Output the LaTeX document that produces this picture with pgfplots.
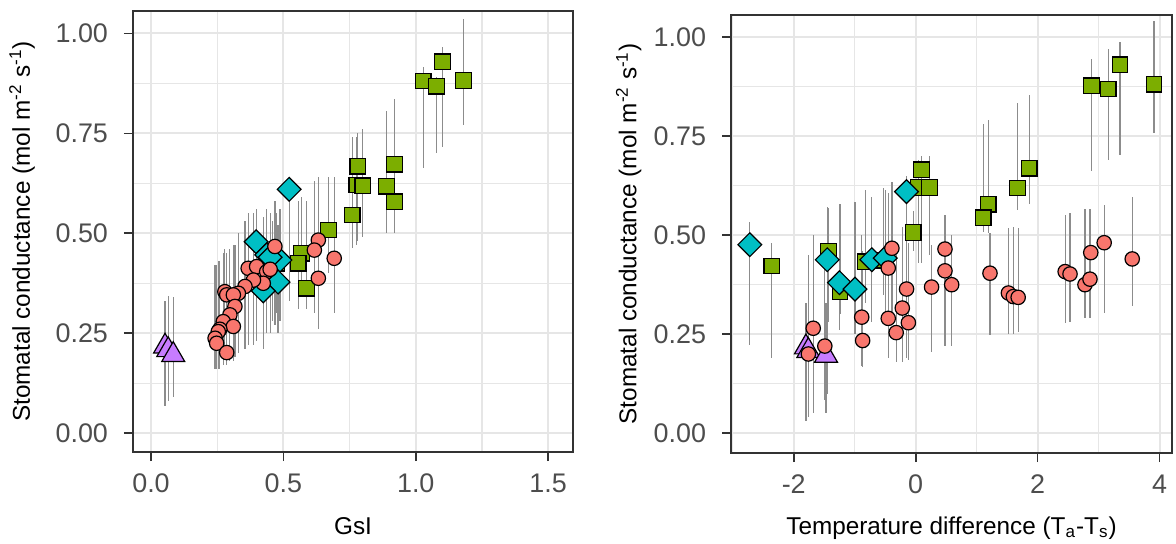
\documentclass[border=0pt]{standalone}
\usepackage{fontspec}
\setmainfont{Liberation Sans}
\usepackage{pgfplots}
\usepackage{pgfplotstable}
\pgfplotsset{compat=1.18}

\definecolor{cCirc}{HTML}{F8766D}
\definecolor{cSq}{HTML}{7CAE00}
\definecolor{cDia}{HTML}{00BFC4}
\definecolor{cTri}{HTML}{C77CFF}
\definecolor{gg20}{HTML}{333333}
\definecolor{ggGrid}{HTML}{E6E6E6}
\definecolor{ggLab}{HTML}{4D4D4D}
\definecolor{ggBar}{HTML}{8C8C8C}

% columns: x y lo hi  (lo/hi = ends of the error bar)
\pgfplotstableread{
x y lo hi
0.468 0.467 0.27 0.58
0.632 0.483 0.33 0.64
0.617 0.458 0.30 0.63
0.692 0.4375 0.30 0.64
0.632 0.3875 0.26 0.62
0.367 0.4125 0.22 0.55
0.399 0.4167 0.23 0.56
0.437 0.404 0.25 0.56
0.424 0.375 0.24 0.54
0.387 0.383 0.22 0.55
0.355 0.367 0.21 0.53
0.450 0.410 0.25 0.55
0.330 0.350 0.20 0.50
0.279 0.354 0.19 0.46
0.286 0.346 0.19 0.45
0.311 0.346 0.20 0.47
0.317 0.317 0.19 0.47
0.298 0.296 0.18 0.46
0.273 0.279 0.17 0.45
0.311 0.267 0.18 0.44
0.260 0.260 0.16 0.43
0.254 0.254 0.16 0.43
0.242 0.2375 0.16 0.42
0.248 0.225 0.16 0.42
0.286 0.2017 0.17 0.43
}\leftcirc

\pgfplotstableread{
x y lo hi
1.028 0.881 0.663 0.917
1.101 0.929 0.717 0.967
1.079 0.868 0.700 0.890
1.180 0.882 0.771 1.035
0.781 0.668 0.48 0.75
0.777 0.621 0.47 0.74
0.800 0.619 0.49 0.76
0.919 0.673 0.52 0.835
0.890 0.618 0.50 0.806
0.919 0.579 0.50 0.78
0.760 0.546 0.463 0.74
0.670 0.508 0.40 0.64
0.569 0.450 0.34 0.59
0.556 0.425 0.31 0.58
0.475 0.425 0.30 0.55
0.460 0.420 0.28 0.53
0.588 0.3625 0.31 0.58
}\leftsq

\pgfplotstableread{
x y lo hi
0.522 0.610 0.33 0.62
0.397 0.479 0.30 0.53
0.437 0.446 0.27 0.55
0.487 0.433 0.28 0.56
0.450 0.440 0.27 0.55
0.480 0.378 0.25 0.52
0.424 0.356 0.21 0.52
}\leftdia

\pgfplotstableread{
x y lo hi
0.053 0.217 0.067 0.330
0.065 0.208 0.080 0.343
0.084 0.196 0.090 0.340
}\lefttri

\pgfplotstableread{
x y lo hi
-1.68 0.265 0.050 0.50
-1.76 0.200 0.067 0.45
-1.49 0.220 0.084 0.42
-0.39 0.467 0.30 0.635
-0.45 0.417 0.25 0.606
-0.885 0.293 0.17 0.50
-0.87 0.234 0.168 0.46
-0.15 0.364 0.19 0.55
-0.22 0.316 0.18 0.52
-0.45 0.290 0.19 0.50
-0.12 0.279 0.185 0.48
-0.32 0.254 0.18 0.47
0.26 0.369 0.206 0.475
0.48 0.465 0.24 0.55
0.48 0.410 0.22 0.53
0.59 0.375 0.22 0.50
1.218 0.404 0.248 0.505
1.52 0.354 0.25 0.517
1.60 0.345 0.25 0.52
1.68 0.343 0.255 0.517
2.45 0.408 0.278 0.551
2.53 0.402 0.28 0.555
2.775 0.375 0.29 0.566
2.857 0.389 0.29 0.566
2.87 0.456 0.29 0.566
3.09 0.481 0.303 0.576
3.55 0.440 0.32 0.597
}\rightcirc

\pgfplotstableread{
x y lo hi
2.885 0.877 0.661 0.944
3.157 0.869 0.690 0.970
3.350 0.930 0.703 0.989
3.907 0.881 0.757 1.040
1.862 0.669 0.579 0.854
1.672 0.619 0.564 0.835
1.190 0.578 0.506 0.790
1.108 0.544 0.509 0.781
0.098 0.665 0.43 0.70
0.043 0.620 0.43 0.69
0.223 0.620 0.45 0.70
-0.04 0.507 0.46 0.56
-2.36 0.422 0.19 0.48
-1.43 0.459 0.28 0.569
-0.82 0.433 0.33 0.614
-1.24 0.358 0.30 0.58
-0.53 0.437 0.35 0.62
}\rightsq

\pgfplotstableread{
x y lo hi
-2.72 0.476 0.223 0.534
-1.45 0.438 0.10 0.572
-1.25 0.380 0.26 0.58
-0.995 0.364 0.25 0.585
-0.72 0.438 0.28 0.597
-0.50 0.442 0.30 0.615
-0.15 0.610 0.45 0.65
}\rightdia

\pgfplotstableread{
x y lo hi
-1.80 0.217 0.03 0.33
-1.76 0.208 0.04 0.34
-1.47 0.196 0.05 0.33
}\righttri

\pgfplotsset{
  gg/.style={
    scale only axis,
    axis line style={draw=gg20, line width=0.8bp},
    tick style={draw=gg20, line width=0.8bp},
    tick align=outside, major tick length=4.5bp, minor tick length=0pt,
    xtick pos=lower, ytick pos=left,
    grid=both,
    major grid style={draw=ggGrid, line width=1.1bp},
    minor grid style={draw=ggGrid, line width=0.6bp},
    ticklabel style={font=\fontsize{13.5}{15}\selectfont, text=ggLab},
    yticklabel style={xshift=-4.5bp},
    xticklabel style={yshift=-3bp},
    ytick={0,0.25,0.5,0.75,1},
    yticklabels={0.00,0.25,0.50,0.75,1.00},
    minor ytick={0.125,0.375,0.625,0.875},
    ylabel={Stomatal conductance (mol m\textsuperscript{-2} s\textsuperscript{-1})},
  },
  ebar/.style={draw=none, mark=none, forget plot,
    error bars/.cd, y dir=both, y explicit, error mark=none,
    error bar style={draw=ggBar, line width=0.6bp}},
  pcirc/.style={only marks, mark=*, mark size=3.6bp,
    mark options={fill=cCirc, draw=black, line width=0.6bp}},
  psq/.style={only marks, mark=square*, mark size=3.9bp,
    mark options={fill=cSq, draw=black, line width=0.6bp}},
  pdia/.style={only marks, mark=square*, mark size=4.2bp,
    mark options={rotate=45, fill=cDia, draw=black, line width=0.6bp}},
  ptri/.style={only marks, mark=triangle*, mark size=6.6bp,
    mark options={fill=cTri, draw=black, line width=0.6bp}},
  table/etab/.style={x=x, y=y,
    y error plus expr=\thisrow{hi}-\thisrow{y},
    y error minus expr=\thisrow{y}-\thisrow{lo}},
}

\newcommand\labfont{\fontsize{12.2}{14}\selectfont}

\begin{document}
\begin{tikzpicture}
\useasboundingbox (0,0) rectangle (588bp,272bp);

% left panel
\begin{axis}[gg,
  at={(66.5bp,46bp)}, anchor=south west,
  width=220bp, height=220.5bp,
  xmin=-0.068, xmax=1.594, ymin=-0.047, ymax=1.056,
  xtick={0,0.5,1,1.5}, xticklabels={0.0,0.5,1.0,1.5},
  minor xtick={0.25,0.75,1.25},
  xlabel={GsI},
  every axis x label/.style={at={(axis description cs:0.5,-0.186)}, anchor=base, font=\labfont},
  every axis y label/.style={at={(axis description cs:-0.252,0.5)}, rotate=90, anchor=center, font=\labfont},
]
\addplot[ebar] table[etab] \leftsq;
\addplot[ebar] table[etab] \lefttri;
\addplot[ebar] table[etab] \leftdia;
\addplot[ebar] table[etab] \leftcirc;
\addplot[psq] table[x=x, y=y] \leftsq;
\addplot[ptri] table[x=x, y=y] \lefttri;
\addplot[pdia] table[x=x, y=y] \leftdia;
\addplot[pcirc] table[x=x, y=y] \leftcirc;
\end{axis}

% right panel
\begin{axis}[gg,
  at={(365.5bp,45.5bp)}, anchor=south west,
  width=220.5bp, height=219bp,
  xmin=-3.028, xmax=4.202, ymin=-0.05, ymax=1.056,
  xtick={-2,0,2,4}, xticklabels={-2,0,2,4},
  minor xtick={-3,-1,1,3},
  xlabel={Temperature difference (T\textsubscript{a}-T\textsubscript{s})},
  every axis x label/.style={at={(axis description cs:0.5,-0.185)}, anchor=base, font=\labfont},
  every axis y label/.style={at={(axis description cs:-0.232,0.5)}, rotate=90, anchor=center, font=\labfont},
]
\addplot[ebar] table[etab] \rightsq;
\addplot[ebar] table[etab] \righttri;
\addplot[ebar] table[etab] \rightdia;
\addplot[ebar] table[etab] \rightcirc;
\addplot[psq] table[x=x, y=y] \rightsq;
\addplot[ptri] table[x=x, y=y] \righttri;
\addplot[pdia] table[x=x, y=y] \rightdia;
\addplot[pcirc] table[x=x, y=y] \rightcirc;
\end{axis}
\end{tikzpicture}
\end{document}
